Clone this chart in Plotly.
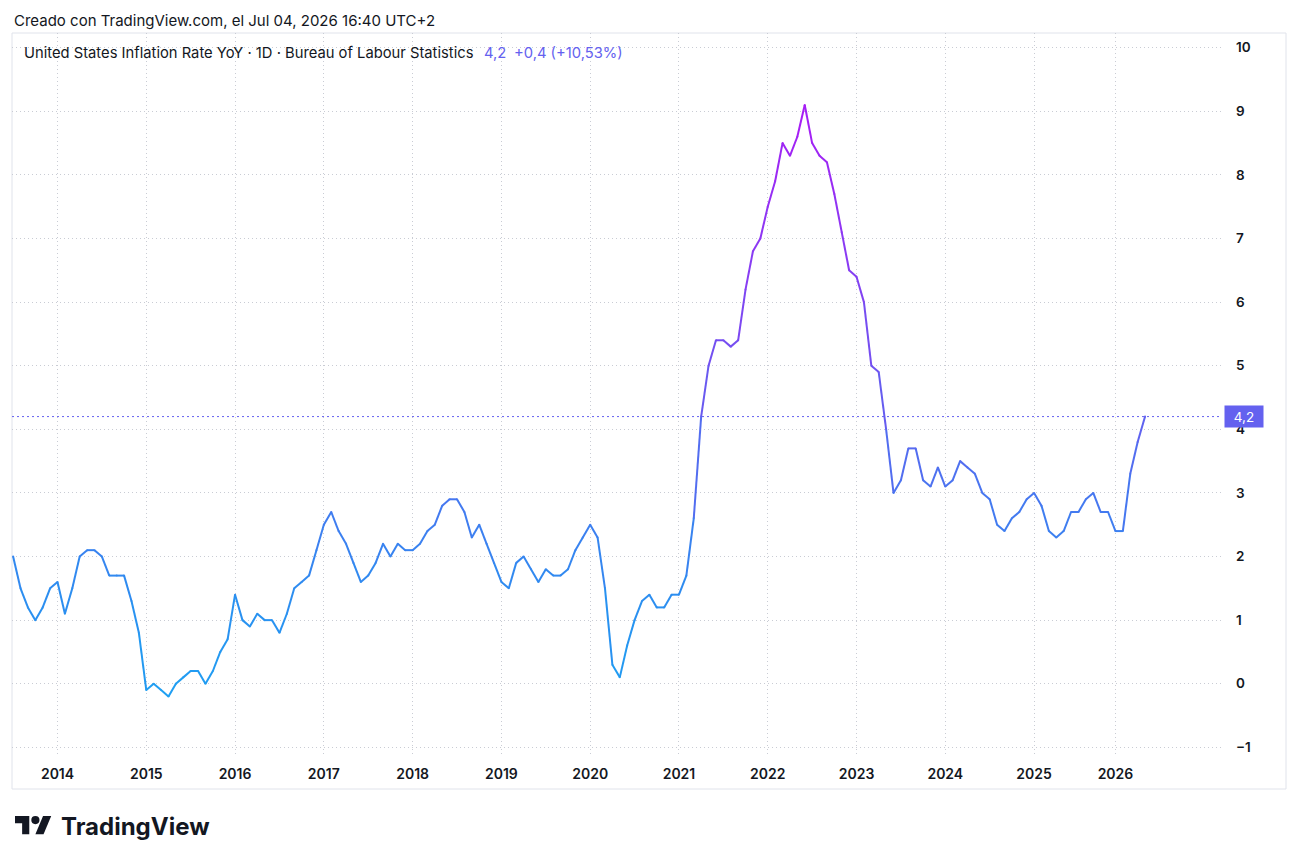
import plotly.graph_objects as go

# ---------------- data ----------------
months = (
    [f"2013-{m:02d}" for m in range(7, 13)]
    + [f"{y}-{m:02d}" for y in range(2014, 2025) for m in range(1, 13)]
    + [f"2025-{m:02d}" for m in range(1, 13) if m != 10]
    + [f"2026-{m:02d}" for m in range(1, 6)]
)
v2013 = [2.0, 1.5, 1.2, 1.0, 1.2, 1.5]
v2014 = [1.6, 1.1, 1.5, 2.0, 2.1, 2.1, 2.0, 1.7, 1.7, 1.7, 1.3, 0.8]
v2015 = [-0.1, 0.0, -0.1, -0.2, 0.0, 0.1, 0.2, 0.2, 0.0, 0.2, 0.5, 0.7]
v2016 = [1.4, 1.0, 0.9, 1.1, 1.0, 1.0, 0.8, 1.1, 1.5, 1.6, 1.7, 2.1]
v2017 = [2.5, 2.7, 2.4, 2.2, 1.9, 1.6, 1.7, 1.9, 2.2, 2.0, 2.2, 2.1]
v2018 = [2.1, 2.2, 2.4, 2.5, 2.8, 2.9, 2.9, 2.7, 2.3, 2.5, 2.2, 1.9]
v2019 = [1.6, 1.5, 1.9, 2.0, 1.8, 1.6, 1.8, 1.7, 1.7, 1.8, 2.1, 2.3]
v2020 = [2.5, 2.3, 1.5, 0.3, 0.1, 0.6, 1.0, 1.3, 1.4, 1.2, 1.2, 1.4]
v2021 = [1.4, 1.7, 2.6, 4.2, 5.0, 5.4, 5.4, 5.3, 5.4, 6.2, 6.8, 7.0]
v2022 = [7.5, 7.9, 8.5, 8.3, 8.6, 9.1, 8.5, 8.3, 8.2, 7.7, 7.1, 6.5]
v2023 = [6.4, 6.0, 5.0, 4.9, 4.0, 3.0, 3.2, 3.7, 3.7, 3.2, 3.1, 3.4]
v2024 = [3.1, 3.2, 3.5, 3.4, 3.3, 3.0, 2.9, 2.5, 2.4, 2.6, 2.7, 2.9]
v2025 = [3.0, 2.8, 2.4, 2.3, 2.4, 2.7, 2.7, 2.9, 3.0, 2.7, 2.7]
v2026 = [2.4, 2.4, 3.3, 3.8, 4.2]
values = (v2013 + v2014 + v2015 + v2016 + v2017 + v2018 + v2019 + v2020
          + v2021 + v2022 + v2023 + v2024 + v2025 + v2026)

year_labels = ["2014", "2015", "2016", "2017", "2018", "2019", "2020",
               "2021", "2022", "2023", "2024", "2025", "2026"]
y_ticks = [-1, 0, 1, 2, 3, 4, 5, 6, 7, 8, 9, 10]

last_value = values[-1]
title_text = "Creado con TradingView.com, el Jul 04, 2026 16:40 UTC+2"
legend_text = "United States Inflation Rate YoY · 1D · Bureau of Labour Statistics"
last_label = "4,2"
change_label = "+0,4 (+10,53%)"

# ---------------- styling helpers ----------------
stops = [(-0.2, (30, 160, 242)), (1.5, (45, 140, 240)), (3.0, (72, 118, 240)),
         (4.2, (98, 96, 240)), (6.0, (128, 68, 242)), (9.1, (168, 28, 245))]


def color_for(v):
    if v <= stops[0][0]:
        c = stops[0][1]
    elif v >= stops[-1][0]:
        c = stops[-1][1]
    else:
        for (a, ca), (b, cb) in zip(stops[:-1], stops[1:]):
            if a <= v <= b:
                t = (v - a) / (b - a)
                c = tuple(round(ca[i] + t * (cb[i] - ca[i])) for i in range(3))
                break
    return "rgb(%d,%d,%d)" % c


L, R, T, B = 12, 1222, 33, 757
W, H = 1299, 863


def px(x):
    return (x - L) / (R - L)


def py(y):
    return (B - y) / (B - T)


fig = go.Figure()

# group segments by colour bins
nb = 48
vmin, vmax = -0.2, 9.1
bins = {}
for i in range(len(values) - 1):
    m = (values[i] + values[i + 1]) / 2
    k = round((m - vmin) / (vmax - vmin) * nb)
    bins.setdefault(k, []).append(i)
for k, idxs in sorted(bins.items()):
    xs, ys = [], []
    for i in idxs:
        xs += [months[i], months[i + 1], None]
        ys += [values[i], values[i + 1], None]
    fig.add_trace(go.Scatter(x=xs, y=ys, mode="lines", connectgaps=False,
                             line=dict(color=color_for(vmin + k * (vmax - vmin) / nb), width=2),
                             hoverinfo="skip", showlegend=False))
# joint markers
fig.add_trace(go.Scatter(x=months, y=values, mode="markers",
                         marker=dict(size=2, color=[color_for(v) for v in values]),
                         hoverinfo="skip", showlegend=False))

purple = "#6461ef"

year_vals = [f"{y}-01" for y in year_labels]

fig.update_layout(
    width=W, height=H, autosize=False,
    margin=dict(l=L, r=W - R, t=T, b=H - B),
    paper_bgcolor="white", plot_bgcolor="white",
    hovermode=False,
    font=dict(family="Inter, Roboto, sans-serif", color="#131722", size=13),
    xaxis=dict(type="category", categoryorder="array", categoryarray=months,
               range=[-0.15, 163.4], tickmode="array", tickvals=year_vals,
               ticktext=year_labels, showgrid=True, gridcolor="#c9ccd4",
               griddash="1px,3px", gridwidth=1, zeroline=False, showline=False,
               ticks="", ticklabelstandoff=7,
               tickfont=dict(size=14, weight=600, color="#131722")),
    yaxis=dict(side="right", range=[-1.152, 10.231], tickmode="array",
               tickvals=y_ticks, showgrid=True, gridcolor="#c9ccd4",
               griddash="1px,3px", gridwidth=1, zeroline=False, showline=False,
               ticks="", ticklabelstandoff=13,
               tickfont=dict(size=13.5, weight=600, color="#131722")),
    shapes=[
        dict(type="rect", xref="paper", yref="paper", x0=0, x1=px(1286), y0=py(789), y1=1,
             line=dict(color="#e0e3eb", width=1), fillcolor="rgba(0,0,0,0)", layer="below"),
        dict(type="line", xref="paper", yref="y", x0=0, x1=1, y0=last_value, y1=last_value,
             line=dict(color=purple, width=1, dash="2px,3px")),
    ],
)

# value label on price axis
fig.add_annotation(xref="paper", yref="y", x=px(1224), y=last_value, xanchor="left",
                   yanchor="middle", text=last_label, showarrow=False, bgcolor=purple,
                   width=38, height=21, font=dict(color="white", size=13.5),
                   borderpad=0, align="center")

# top texts
fig.add_annotation(xref="paper", yref="paper", x=px(12), y=py(20), xanchor="left",
                   yanchor="middle", text=title_text, showarrow=False,
                   font=dict(size=15, color="#131722"))
fig.add_annotation(xref="paper", yref="paper", x=px(22), y=py(53), xanchor="left",
                   yanchor="middle", text=legend_text, showarrow=False,
                   font=dict(size=14.75, color="#131722"))
fig.add_annotation(xref="paper", yref="paper", x=px(482), y=py(53), xanchor="left",
                   yanchor="middle", text=last_label, showarrow=False,
                   font=dict(size=14.75, color=purple))
fig.add_annotation(xref="paper", yref="paper", x=px(512), y=py(53), xanchor="left",
                   yanchor="middle", text=change_label, showarrow=False,
                   font=dict(size=14.75, color=purple))

# TradingView logo
s = 1.02


def lp(x, y):
    return px(15 + x * s), py(816 + (y - 4) * s)


def path(points):
    return "M " + " L ".join("%.5f,%.5f" % lp(x, y) for x, y in points) + " Z"


logo_color = "#131722"
fig.add_shape(type="path", xref="paper", yref="paper",
              path=path([(0, 4), (14, 4), (14, 22), (7, 22), (7, 11), (0, 11)]),
              fillcolor=logo_color, line=dict(width=0))
fig.add_shape(type="path", xref="paper", yref="paper",
              path=path([(20, 22), (28, 22), (35.5, 4), (27.5, 4)]),
              fillcolor=logo_color, line=dict(width=0))
cx0, cy0 = lp(16, 4)
cx1, cy1 = lp(24, 12)
fig.add_shape(type="circle", xref="paper", yref="paper", x0=cx0, x1=cx1, y0=cy1, y1=cy0,
              fillcolor=logo_color, line=dict(width=0))
fig.add_annotation(xref="paper", yref="paper", x=px(59), y=py(826), xanchor="left",
                   yanchor="middle", text="TradingView", showarrow=False,
                   font=dict(size=24, color=logo_color, weight=700))

fig.write_html("out.html")
